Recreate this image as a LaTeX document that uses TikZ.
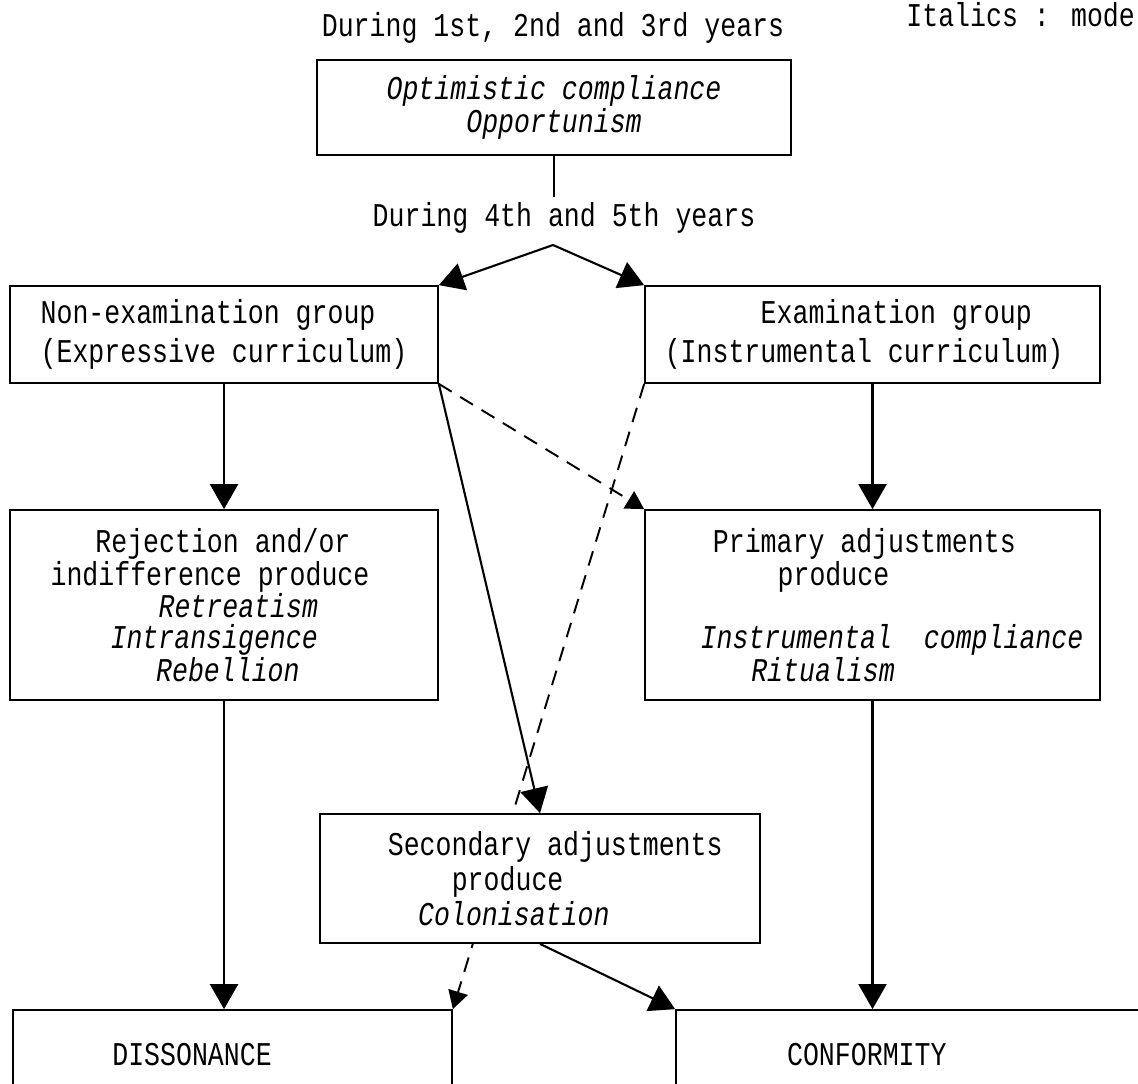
\documentclass[tikz,border=0pt]{standalone}
\usepackage{fontspec}
\setmainfont{Liberation Mono}[FakeStretch=0.8]
\usetikzlibrary{arrows.meta}
\newlength\chw
\setlength\chw{0.32cm}
\newcommand\ind[1]{\hbox to #1\chw{}}

\begin{document}
\begin{tikzpicture}[x=0.02cm, y=-0.02cm,
    every node/.style={font=\fontsize{18.9}{17.6}\selectfont},
    box/.style={draw, line width=1pt, inner sep=0pt, align=left},
    solidarrow/.style={line width=1.2pt, -{Triangle[length=0.5cm,width=0.56cm]}},
    dasharrow/.style={line width=1.1pt, dash pattern=on 0.3cm off 0.2cm, -{Triangle[length=0.36cm,width=0.4cm]}}]

    % Marco de la figura
    \useasboundingbox (0,0) rectangle (1138,1083);
    \clip (0,0) rectangle (1138,1083);

    % Textos de los periodos
    \node (yrs13) at (553,28) {During 1st, 2nd and 3rd years};
    \node[anchor=east, inner sep=1pt] (key) at (1137,15) {Italics : mode};
    \node (yrs45) at (564,218) {During 4th and 5th years};

    % Cajas
    \node[box, align=center, minimum width=9.48cm, minimum height=1.9cm,
          font=\fontsize{18.9}{17.6}\selectfont\itshape] (early) at (554,107.5)
        {Optimistic compliance\\Opportunism};
    \node[box, minimum width=8.56cm, minimum height=1.94cm] (nonexam) at (224,334.5)
        {Non-examination group\\[0.12cm](Expressive curriculum)};
    \node[box, minimum width=9.1cm, minimum height=1.94cm] (exam) at (872.5,334.5)
        {\ind{6}Examination group\\[0.12cm](Instrumental curriculum)\ind{1.06}};
    \node[box, minimum width=8.56cm, minimum height=3.8cm] (reject) at (224,605)
        {\ind{2.8}Rejection and/or\\indifference produce\ind{1.75}\\
         \ind{6.75}\textit{Retreatism}\\\ind{3.75}\textit{Intransigence}\\
         \ind{6.6}\textit{Rebellion}};
    \node[box, minimum width=9.1cm, minimum height=3.8cm] (primary) at (872.5,605)
        {\ind{3.2}Primary adjustments\\\ind{7.25}produce\\[0.62cm]
         \ind{2.44}\textit{Instrumental\ \ compliance}\\\ind{5.6}\textit{Ritualism}};
    \node[box, minimum width=8.78cm, minimum height=1.8cm] (disson) at (232.5,1055)
        {DISSONANCE\ind{5.06}};
    \node[box, minimum width=9.68cm, minimum height=1.8cm] (conform) at (918,1055)
        {CONFORMITY\ind{6.4}};

    % Linea discontinua que pasa por detras de la caja secundaria
    \draw[dasharrow] (exam.south west) -- (disson.north east);

    \node[box, fill=white, minimum width=8.8cm, minimum height=2.58cm] (second) at (540,878.5)
        {\ind{1.9}Secondary adjustments\\[0.05cm]\ind{5.9}produce\\[0.05cm]
         \ind{3.8}\textit{Colonisation}};

    % Bifurcacion
    \coordinate (gap) at (554,197);
    \coordinate (fork) at (553,245);
    \draw[line width=1pt] (early.south) -- (gap);
    \draw[solidarrow] (fork) -- (nonexam.north east);
    \draw[solidarrow] (fork) -- (exam.north west);

    % Flechas verticales
    \draw[solidarrow] (nonexam.south) -- (reject.north);
    \draw[solidarrow] (exam.south) -- (primary.north);
    \draw[solidarrow] (reject.south) -- (reject.south |- disson.north);
    \draw[solidarrow] (primary.south) -- (primary.south |- conform.north);

    % Flechas cruzadas
    \draw[solidarrow] (nonexam.south east) -- (second.north);
    \draw[dasharrow] (nonexam.south east) -- (primary.north west);
    \draw[solidarrow] (second.south) -- (conform.north west);

\end{tikzpicture}
\end{document}
